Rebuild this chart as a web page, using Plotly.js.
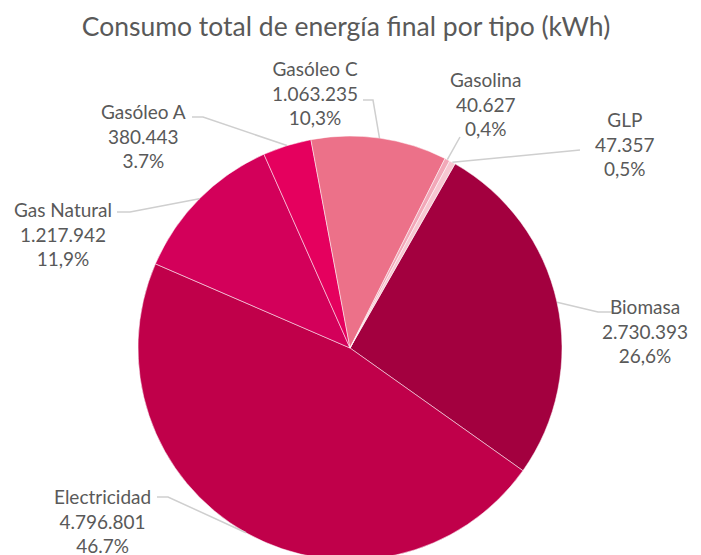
<!DOCTYPE html>
<html>
<head>
<meta charset="utf-8">
<script src="https://cdn.plot.ly/plotly-3.0.1.min.js"></script>
<style>
  html, body { margin: 0; padding: 0; overflow: hidden; background: #fff; }
  #chart { width: 701px; height: 780px; }
</style>
</head>
<body>
<div id="chart"></div>
<script>
// Data (kWh), in drawing order clockwise.
const labels = ["Biomasa", "Electricidad", "Gas Natural", "Gasóleo A", "Gasóleo C", "Gasolina", "GLP"];
const values = [2730393, 4796801, 1217942, 380443, 1063235, 40627, 47357];
const pctLabels = ["26,6%", "46.7%", "11,9%", "3.7%", "10,3%", "0,4%", "0,5%"];
const colors = ["#a3003f", "#c0004a", "#d3005a", "#e5005e", "#ec7189", "#f2a8b8", "#f7c7d1"];

const W = 701, H = 780;
const CX = 350, CY = 348, R = 212;
const ROT = 29.7;
const FONT = "Lato, 'Open Sans', sans-serif";
const GREY = "#595959";

// label block centres + leader elbow/end points (pixels)
const labelPos = [
  { x: 645, y: 331, elbow: [598, 312], end: [612, 312] },
  { x: 102, y: 521, elbow: [168, 497], end: [157, 497] },
  { x: 63, y: 234, elbow: [130, 212], end: [117, 212] },
  { x: 143, y: 136, elbow: [203, 117], end: [192, 117] },
  { x: 315, y: 93, elbow: [373, 100], end: [363, 100] },
  { x: 485, y: 104, elbow: [460, 137], end: [460, 137] },
  { x: 625, y: 144, elbow: [580, 150], end: [580, 150] },
];

const px = (x) => x / W;
const py = (y) => 1 - y / H;
const fmt = (v) => String(v).replace(/\B(?=(\d{3})+(?!\d))/g, ".");

const total = values.reduce((a, b) => a + b, 0);
let acc = 0;
const anchors = values.map((v) => {
  const mid = ROT + (acc + v / 2) / total * 360;
  acc += v;
  const a = mid * Math.PI / 180;
  return [CX + R * Math.sin(a), CY - R * Math.cos(a)];
});

const annotations = labels.map((name, i) => ({
  xref: "paper", yref: "paper",
  x: px(labelPos[i].x), y: py(labelPos[i].y),
  xanchor: "center", yanchor: "middle",
  text: `${name}<br>${fmt(values[i])}<br>${pctLabels[i]}`,
  showarrow: false,
  align: "center",
  font: { family: FONT, size: 19, color: GREY },
}));

const shapes = labels.map((_, i) => {
  const p = labelPos[i];
  const a = anchors[i];
  return {
    type: "path",
    xref: "paper", yref: "paper",
    path: `M${px(p.end[0])},${py(p.end[1])} L${px(p.elbow[0])},${py(p.elbow[1])} L${px(a[0])},${py(a[1])}`,
    line: { color: "#cfcfcf", width: 1.5 },
    layer: "above",
  };
});

const trace = {
  type: "pie",
  labels: labels,
  values: values,
  sort: false,
  direction: "clockwise",
  rotation: ROT,
  textinfo: "none",
  hoverinfo: "label+value+percent",
  marker: { colors: colors, line: { color: "#ffffff", width: 0.5 } },
  domain: { x: [px(CX - R), px(CX + R)], y: [py(CY + R), py(CY - R)] },
};

const layout = {
  width: W,
  height: H,
  margin: { l: 0, r: 0, t: 0, b: 0 },
  paper_bgcolor: "#ffffff",
  showlegend: false,
  title: {
    text: "Consumo total de energía final por tipo (kWh)",
    x: 346 / W, xanchor: "center", xref: "paper",
    y: 1 - 27 / H, yanchor: "middle", yref: "container",
    font: { family: FONT, size: 26.5, color: GREY },
  },
  annotations: annotations,
  shapes: shapes,
};

Plotly.newPlot("chart", [trace], layout, { displayModeBar: false, staticPlot: true });
</script>
</body>
</html>
